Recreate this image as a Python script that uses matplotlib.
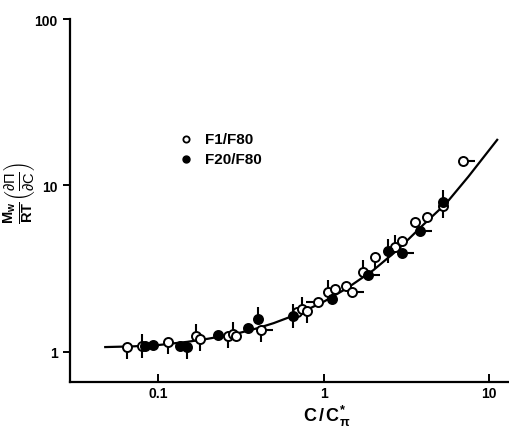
import matplotlib
matplotlib.use("Agg")
import matplotlib.pyplot as plt
import numpy as np

plt.rcParams['font.family'] = ['Liberation Sans', 'DejaVu Sans']
plt.rcParams['mathtext.fontset'] = 'custom'
plt.rcParams['mathtext.rm'] = 'Liberation Sans'
plt.rcParams['mathtext.it'] = 'Liberation Sans'
plt.rcParams['mathtext.bf'] = 'Liberation Sans:bold'

# open circles: F1/F80
f1_x = [0.065, 0.080, 0.115, 0.17, 0.18, 0.265, 0.285, 0.296, 0.42, 0.69, 0.74,
        0.79, 0.93, 1.06, 1.18, 1.37, 1.48, 1.73, 2.05, 2.7, 2.98, 3.57, 4.22,
        5.27, 6.97]
f1_y = [1.07, 1.08, 1.15, 1.25, 1.20, 1.25, 1.28, 1.25, 1.36, 1.74, 1.81,
        1.76, 1.99, 2.29, 2.38, 2.48, 2.29, 3.01, 3.71, 4.25, 4.62, 6.0, 6.5,
        7.5, 14.1]
f1_pip = ['d', 'ud', 'd', 'u', 'd', 'd', 'u', '', 'dr', '', 'u',
          'd', 'l', 'u', '', '', 'r', 'u', 'd', 'u', '', '', '',
          'd', 'r']

# filled circles: F20/F80
f20_x = [0.083, 0.093, 0.136, 0.15, 0.23, 0.35, 0.40, 0.65, 1.13, 1.85, 2.46,
         2.98, 3.85, 5.27]
f20_y = [1.08, 1.10, 1.08, 1.07, 1.26, 1.39, 1.58, 1.64, 2.08, 2.89, 4.03,
         3.92, 5.3, 8.0]
f20_pip = ['', '', '', 'd', '', '', 'u', 'ud', '', 'r', 'ud',
           'r', 'r', 'u']

# fitted curve
curve_x = [0.048, 0.07, 0.1, 0.15, 0.2, 0.3, 0.4, 0.5, 0.7, 1.0, 1.4, 2.0,
           2.8, 4.0, 5.5, 7.5, 11.2]
curve_y = [1.07, 1.08, 1.10, 1.15, 1.20, 1.29, 1.39, 1.49, 1.69, 2.0, 2.43,
           3.1, 4.1, 5.8, 7.8, 11.3, 18.8]

pip_markers = {'u': 2, 'd': 3, 'r': 1, 'l': 0}

fig = plt.figure(figsize=(5.09, 4.27), dpi=100)
ax = fig.add_axes([70/509, 44/427, 439/509, 363/427])
ax.set_xscale('log')
ax.set_yscale('log')
ax.set_xlim(0.0294, 13.2)
ax.set_ylim(0.66, 100)

ax.plot(curve_x, curve_y, color='black', lw=1.6, zorder=2)


def draw_points(xs, ys, pips, face):
    for x, y, p in zip(xs, ys, pips):
        for c in p:
            ax.plot([x], [y], marker=pip_markers[c], ms=8.5, mew=1.5,
                    color='black', zorder=3)
    ax.plot(xs, ys, 'o', ms=6.5, mfc=face, mec='black', mew=1.4,
            ls='none', zorder=4)


draw_points(f1_x, f1_y, f1_pip, 'white')
draw_points(f20_x, f20_y, f20_pip, 'black')

for s in ['top', 'right']:
    ax.spines[s].set_visible(False)
for s in ['left', 'bottom']:
    ax.spines[s].set_linewidth(1.6)

ax.set_xticks([0.1, 1, 10])
ax.set_xticklabels(['0.1', '1', '10'], fontweight='bold')
ax.set_yticks([1, 10, 100])
ax.set_yticklabels(['1', '10', '100'], fontweight='bold')
ax.minorticks_off()
ax.tick_params(axis='x', direction='in', length=6, width=1.4, labelsize=10, pad=3)
ax.tick_params(axis='y', direction='out', length=5, width=1.4, labelsize=10, pad=4)

# legend
ax.plot([0.264], [0.6695], 'o', ms=4.5, mfc='white', mec='black', mew=1.3,
        transform=ax.transAxes, clip_on=False)
ax.plot([0.264], [0.6144], 'o', ms=5, mfc='black', mec='black',
        transform=ax.transAxes, clip_on=False)
ax.text(0.307, 0.6695, 'F1/F80', transform=ax.transAxes, va='center',
        ha='left', fontsize=11, fontweight='bold')
ax.text(0.307, 0.6144, 'F20/F80', transform=ax.transAxes, va='center',
        ha='left', fontsize=11, fontweight='bold')

fig.text(19/509, 1 - 193/427,
         r'$\mathbf{\frac{M_w}{RT}}\left(\frac{\partial\Pi}{\partial C}\right)$',
         rotation=90, ha='center', va='center', fontsize=15)
fig.text(327/509, 1 - 416/427, r'$\mathbf{C\,/\,C^{*}_{\pi}}$',
         ha='center', va='center', fontsize=13)

fig.savefig('out.png', dpi=100)
